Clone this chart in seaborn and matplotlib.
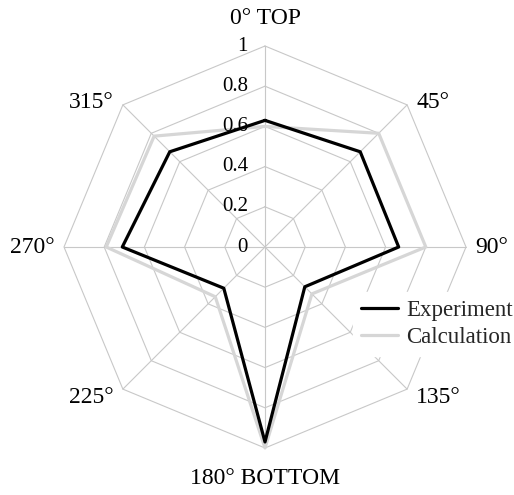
import numpy as np
import pandas as pd
import matplotlib
matplotlib.use("Agg")
import matplotlib.pyplot as plt
import seaborn as sns

# Radar data
angles_deg = [0, 45, 90, 135, 180, 225, 270, 315]
axis_labels = ["0° TOP", "45°", "90°", "135°", "180° BOTTOM", "225°", "270°", "315°"]
experiment = [0.63, 0.67, 0.665, 0.28, 0.97, 0.29, 0.71, 0.67]
calculation = [0.60, 0.80, 0.80, 0.33, 1.00, 0.35, 0.79, 0.78]
ring_values = [0, 0.2, 0.4, 0.6, 0.8, 1.0]
ring_labels = ["0", "0.2", "0.4", "0.6", "0.8", "1"]


def to_xy(values):
    # close the polygon and convert (angle, r) to cartesian, clockwise from top
    th = np.deg2rad(angles_deg + [angles_deg[0]])
    r = np.asarray(list(values) + [values[0]], dtype=float)
    return pd.DataFrame({"x": r * np.sin(th), "y": r * np.cos(th), "order": range(len(r))})


def main():
    sns.set_theme(style="white")
    plt.rcParams["font.family"] = ["Liberation Serif", "DejaVu Serif"]

    fig = plt.figure(figsize=(5.14, 4.95), dpi=100)
    ax = fig.add_axes([0, 0, 1, 1])
    # centre of the web sits at (265, 247) px, radius 1 = 201 px
    ax.set_xlim(-265 / 201, (514 - 265) / 201)
    ax.set_ylim(-248 / 201, 247 / 201)
    ax.set_aspect("equal")
    ax.axis("off")

    grid_col = "#c8c8c8"
    # octagon rings
    for rv in ring_values[1:]:
        ring = to_xy([rv] * len(angles_deg))
        ax.plot(ring["x"], ring["y"], color=grid_col, lw=0.8, zorder=1)
    # spokes
    outer = to_xy([1.0] * len(angles_deg)).iloc[:-1]
    for _, row in outer.iterrows():
        ax.plot([0, row["x"]], [0, row["y"]], color=grid_col, lw=0.8, zorder=1)

    # series (estimator=None so the closing point isn't averaged away)
    sns.lineplot(data=to_xy(calculation), x="x", y="y", sort=False, estimator=None,
                 color="#d6d6d6", lw=2.3, label="Calculation", ax=ax, zorder=3)
    sns.lineplot(data=to_xy(experiment), x="x", y="y", sort=False, estimator=None,
                 color="black", lw=2.3, label="Experiment", ax=ax, zorder=4)

    # radial tick labels on the top spoke
    for rv, lab in zip(ring_values, ring_labels):
        ax.annotate(lab, xy=(0, rv), xytext=(-17, 0), textcoords="offset pixels",
                    ha="right", va="center", fontsize=15, color="black", zorder=5)

    # angle labels just outside the outer octagon
    for _, row in outer.iterrows():
        lab = axis_labels[int(row["order"])]
        s, c = row["x"], row["y"]
        if abs(s) < 1e-6:
            dx, dy, ha = 0, (28 if c > 0 else -31), "center"
        else:
            dx = 9 if s > 0 else -9
            dy = 0 if abs(c) < 1e-6 else (2 if c > 0 else -8)
            ha = "left" if s > 0 else "right"
        ax.annotate(lab, xy=(s, c), xytext=(dx, dy), textcoords="offset pixels",
                    ha=ha, va="center", fontsize=17, color="black")

    handles, labels = ax.get_legend_handles_labels()
    order = [labels.index("Experiment"), labels.index("Calculation")]
    leg = ax.legend([handles[i] for i in order], [labels[i] for i in order],
                    loc="upper left", bbox_to_anchor=(353 / 514, 1 - 292 / 495),
                    bbox_transform=fig.transFigure, borderaxespad=0,
                    frameon=True, facecolor="white", edgecolor="white", framealpha=1,
                    fontsize=16.5, handlelength=1.6, handletextpad=0.36,
                    labelspacing=0.25, borderpad=0.35, fancybox=False)
    leg.set_zorder(10)

    fig.savefig("out.png", dpi=100, facecolor="white")


if __name__ == "__main__":
    main()
